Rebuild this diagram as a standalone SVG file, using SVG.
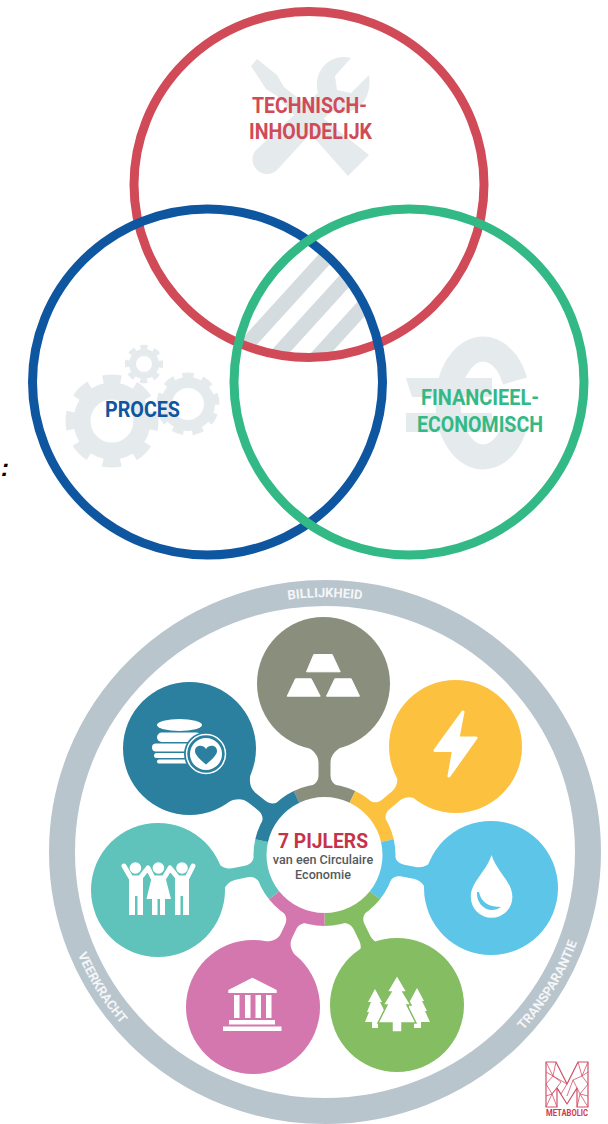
<svg xmlns="http://www.w3.org/2000/svg" width="608" height="1124" viewBox="0 0 608 1124">
<style>
.v{fill:none;stroke-width:9}
.ic{fill:#e5eaec}
.lb{font-family:Roboto,"Liberation Sans",sans-serif;font-weight:700;font-size:22px}
.rt{font-family:Roboto,"Liberation Sans",sans-serif;font-weight:700;font-size:13px;fill:#f4f6f7;text-anchor:middle}
.w{fill:#fff}
.seg{fill:none;stroke-width:13}
</style>
<defs>
<clipPath id="tri"><ellipse cx="309" cy="184.5" rx="175" ry="173"/></clipPath>
<clipPath id="tri2"><ellipse cx="207.5" cy="382" rx="175" ry="173"/></clipPath>
<clipPath id="tri3"><ellipse cx="409" cy="382" rx="175" ry="173"/></clipPath>
<path id="arcT" d="M67,852 A258,255 0 0 1 583,852"/>
<path id="arcB" d="M57,852 A268,265 0 0 0 593,852"/>
<path id="sS" d="M-30,-63 C-18,-68 -6,-68 -6,-80 L-6,-89 C-6,-96 -10,-100 -17,-104 L-17,-110 L17,-110 L17,-104 C10,-100 6,-96 6,-89 L6,-80 C6,-68 18,-68 30,-63 Z"/>
<path id="sL" d="M-30,-63 C-18,-68 -6,-68 -6,-80 L-6,-92 C-6,-99 -10,-104 -17,-108 L-17,-114 L17,-114 L17,-108 C10,-104 6,-99 6,-92 L6,-80 C6,-68 18,-68 30,-63 Z"/>
</defs>
<rect width="608" height="1124" fill="#fff"/>

<g id="venn-hatch" clip-path="url(#tri)"><g clip-path="url(#tri2)"><g clip-path="url(#tri3)" stroke="#d5dcdf" stroke-width="15" fill="none">
<path d="M200,396 L360,220"/><path d="M240,396 L400,220"/><path d="M282,396 L442,220"/>
</g></g></g>

<g id="technisch">
<path class="ic" d="M251,66 L257,59 L277,75 L284,87 L369,155 L348,176 L277,96 L266,89 Z"/>
<path class="ic" d="M351,58 L335,76 L337,90 L351,93 L369,75 C372,95 362,112 342,113 C338,113 334,112 331,111 L278,169 A13,13 0 0 1 256,150 L318,93 C312,72 330,52 351,58 Z"/>
<ellipse class="v" cx="309" cy="184.5" rx="175" ry="173" stroke="#d04a57"/>
<text class="lb" x="252" y="113" fill="#d04a57" textLength="115" lengthAdjust="spacingAndGlyphs">TECHNISCH-</text>
<text class="lb" x="249" y="139" fill="#d04a57" textLength="123" lengthAdjust="spacingAndGlyphs">INHOUDELIJK</text>
</g>

<g id="proces">
<g fill="none" stroke="#e5eaec">
<circle cx="112" cy="421" r="30" stroke-width="17"/><circle cx="112" cy="421" r="42" stroke-width="9" stroke-dasharray="18 15" transform="rotate(-102.3 112 421)"/>
<circle cx="188" cy="404" r="21.5" stroke-width="11"/><circle cx="188" cy="404" r="28.5" stroke-width="6" stroke-dasharray="11 8.9" transform="rotate(-101 188 404)"/>
<circle cx="144" cy="364" r="11.5" stroke-width="7"/><circle cx="144" cy="364" r="17" stroke-width="4.5" stroke-dasharray="7 6.35" transform="rotate(-101.8 144 364)"/>
</g>
<ellipse class="v" cx="207.5" cy="382" rx="175" ry="173" stroke="#0f56a0"/>
<text class="lb" x="105" y="417" fill="#0f56a0" textLength="75" lengthAdjust="spacingAndGlyphs">PROCES</text>
</g>

<g id="financieel">
<path d="M515,381 A35,54 0 1 0 515,425" fill="none" stroke="#e5eaec" stroke-width="25"/>
<path class="ic" d="M406,378 H492 V397 H412 Z M406,413 H492 V432 H406 Z"/>
<ellipse class="v" cx="409" cy="382" rx="175" ry="173" stroke="#32b986"/>
<text class="lb" x="421" y="405" fill="#32b986" textLength="118" lengthAdjust="spacingAndGlyphs">FINANCIEEL-</text>
<text class="lb" x="417" y="432" fill="#32b986" textLength="126" lengthAdjust="spacingAndGlyphs">ECONOMISCH</text>
</g>

<text id="colon" x="1" y="476" font-family="'Liberation Sans',sans-serif" font-style="italic" font-weight="700" font-size="24" fill="#000">:</text>

<g id="ring">
<ellipse cx="325" cy="852" rx="263" ry="259" fill="none" stroke="#b9c5cd" stroke-width="26"/>
<text class="rt"><textPath href="#arcT" startOffset="50%">BILLIJKHEID</textPath></text>
<text class="rt"><textPath href="#arcB" startOffset="17.5%">VEERKRACHT</textPath></text>
<text class="rt"><textPath href="#arcB" startOffset="82.8%">TRANSPARANTIE</textPath></text>
</g>

<g id="connectors">
<use href="#sL" fill="#8a8f7d" transform="translate(324.5 855)"/>
<use href="#sL" fill="#fcc13f" transform="translate(324.5 855) rotate(50.4)"/>
<use href="#sL" fill="#5cc5e8" transform="translate(324.5 855) rotate(101.2)"/>
<use href="#sL" fill="#84bd62" transform="translate(324.5 855) rotate(154.2)"/>
<use href="#sS" fill="#d477ae" transform="translate(324.5 855) rotate(-154.8)"/>
<use href="#sL" fill="#5fc2bb" transform="translate(324.5 855) rotate(-101.9)"/>
<use href="#sL" fill="#2b7f9f" transform="translate(324.5 855) rotate(-51.7)"/>
</g>

<g id="hub">
<path class="seg" stroke="#8a8f7d" d="M296.53,796.88 A64.5,64.5 0 0 1 352.47,796.88"/>
<path class="seg" stroke="#fcc13f" d="M352.47,796.88 A64.5,64.5 0 0 1 387.38,840.65"/>
<path class="seg" stroke="#5cc5e8" d="M387.38,840.65 A64.5,64.5 0 0 1 374.93,895.22"/>
<path class="seg" stroke="#84bd62" d="M374.93,895.22 A64.5,64.5 0 0 1 324.5,919.5"/>
<path class="seg" stroke="#d477ae" d="M324.5,919.5 A64.5,64.5 0 0 1 274.07,895.22"/>
<path class="seg" stroke="#5fc2bb" d="M274.07,895.22 A64.5,64.5 0 0 1 261.62,840.65"/>
<path class="seg" stroke="#2b7f9f" d="M261.62,840.65 A64.5,64.5 0 0 1 296.53,796.88"/>
<text x="278" y="848" font-family="Roboto,'Liberation Sans',sans-serif" font-weight="700" font-size="21" fill="#c5334a" textLength="90" lengthAdjust="spacingAndGlyphs">7 PIJLERS</text>
<text x="323" y="864" text-anchor="middle" font-family="Roboto,'Liberation Sans',sans-serif" font-weight="500" font-size="12.6" fill="#55595c">van een Circulaire</text>
<text x="323" y="879" text-anchor="middle" font-family="Roboto,'Liberation Sans',sans-serif" font-weight="500" font-size="12.6" fill="#55595c">Economie</text>
</g>

<g id="gold">
<circle cx="323.5" cy="683.5" r="66.5" fill="#8a8f7d"/>
<path class="w" stroke="#fff" stroke-linejoin="round" d="M313.8,654.5 H332.2 L340.2,671.8 H306.5 Z M295.5,678.8 H311.2 L320.2,696.2 H287.2 Z M334.8,678.8 H351.2 L359.5,696.2 H326.5 Z"/>
</g>

<g id="finance">
<circle cx="189.5" cy="748.5" r="66.5" fill="#2b7f9f"/>
<ellipse class="w" cx="179.5" cy="725" rx="22.5" ry="6"/>
<rect class="w" x="157" y="732.5" width="44" height="9.5" rx="4.7"/>
<rect class="w" x="152" y="743.5" width="44" height="8" rx="4"/>
<rect class="w" x="154" y="753" width="38" height="5" rx="2.5"/>
<rect class="w" x="157" y="759.5" width="36" height="4" rx="2"/>
<circle cx="206" cy="754" r="22" fill="#2b7f9f"/>
<circle cx="206" cy="754" r="19.5" fill="none" stroke="#fff" stroke-width="1.5"/>
<circle class="w" cx="206" cy="754" r="16"/>
<path fill="#2b7f9f" d="M206,764.5 C198,758 195,754 195,751 C195,745 203,744 206,749 C209,744 217,745 217,751 C217,754 214,758 206,764.5 Z"/>
</g>

<g id="energy">
<circle cx="455.5" cy="746.5" r="66.5" fill="#fcc13f"/>
<path class="w" stroke="#fff" stroke-width="3" stroke-linejoin="round" d="M463,712 L435,750.5 H453.5 L449,776 L476,738 H458 Z"/>
</g>

<g id="water">
<circle cx="491" cy="888" r="67" fill="#5cc5e8"/>
<path class="w" d="M491.6,855 C497,872 512.4,882 512.4,897 A20.8,20.8 0 0 1 470.8,897 C470.8,882 486,872 491.6,855 Z"/>
<path fill="#5cc5e8" d="M477,892 C476,906 490,915 501,907 C490,907 481,903 479,892 Z"/>
</g>

<g id="people">
<circle cx="158" cy="890" r="67" fill="#5fc2bb"/>
<g class="w">
<circle cx="135.4" cy="868" r="5.8"/><circle cx="158.4" cy="868" r="5.8"/><circle cx="182" cy="868" r="5.8"/>
</g>
<g fill="none" stroke="#fff" stroke-width="5" stroke-linecap="round" stroke-linejoin="round">
<path d="M124,866 L131,878 H140 L148,868 L153,878 H164 L170,868 L178,878 H187 L193,866"/>
</g>
<path class="w" d="M129,876 H143 V915 H137.5 V896 H135 V915 H129 Z"/>
<path class="w" d="M152,876 H165 L171,899 H165 V915 H160 V899 H157.5 V915 H152 V899 H146.5 Z"/>
<path class="w" d="M175,876 H189 V915 H183 V896 H180.5 V915 H175 Z"/>
</g>

<g id="institutions">
<circle cx="253" cy="1007" r="67" fill="#d477ae"/>
<path class="w" d="M252.3,977.7 L276.7,990 V993 H228.3 V990 Z"/>
<path class="w" d="M234,995 h5.5 v23 h-5.5 Z M245,995 h5.5 v23 h-5.5 Z M255.5,995 h5.5 v23 h-5.5 Z M266,995 h5.5 v23 h-5.5 Z"/>
<rect class="w" x="229" y="1020" width="46" height="4.5"/>
<rect class="w" x="223" y="1026.5" width="58.5" height="4.5"/>
</g>

<g id="biosphere">
<circle cx="397" cy="1005" r="67" fill="#84bd62"/>
<path class="w" d="M375,989 L382,1002 L380,1002 L385,1012 L383,1012 L387,1022 L378,1022 V1028 H372 V1022 H365 L369,1012 L367,1012 L371,1002 L368,1002 Z"/>
<path class="w" d="M417,988 L424,1001 L422,1001 L427,1011 L425,1011 L430,1022 L421,1022 V1028 H414 V1022 H406 L410,1001 Z"/>
<path class="w" stroke="#84bd62" stroke-width="1.5" d="M397,975 L407,992 L403,992 L411,1005 L407,1005 L416,1023 L402,1023 V1032 H392 V1023 L378,1023 L387,1005 L383,1005 L391,992 L387,992 Z"/>
</g>

<g id="metabolic">
<path fill="none" stroke="#d2506a" stroke-width="1.2" stroke-linejoin="round" d="M546,1062 H556 L567,1084 L578,1062 H588 V1107 H577 V1088 L567,1104 L557,1088 V1107 H546 Z"/>
<path fill="none" stroke="#d2506a" stroke-width=".8" d="M546,1062 L553,1076 L546,1084 L552,1094 L546,1107 M556,1062 L553,1076 L561,1082 L552,1094 L557,1107 M553,1076 L567,1084 L561,1094 L557,1088 M578,1062 L582,1076 L588,1084 L580,1094 L588,1107 M588,1062 L582,1076 L573,1080 L580,1094 L577,1107 M573,1080 L567,1096 M552,1094 L557,1088 M546,1072 L553,1076 M588,1072 L582,1076 M546,1096 L552,1094 M588,1096 L580,1094"/>
<text x="567" y="1116" font-family="Roboto,'Liberation Sans',sans-serif" font-weight="700" font-size="8.6" fill="#d2374d" text-anchor="middle" textLength="42" lengthAdjust="spacingAndGlyphs">METABOLIC</text>
</g>
</svg>
